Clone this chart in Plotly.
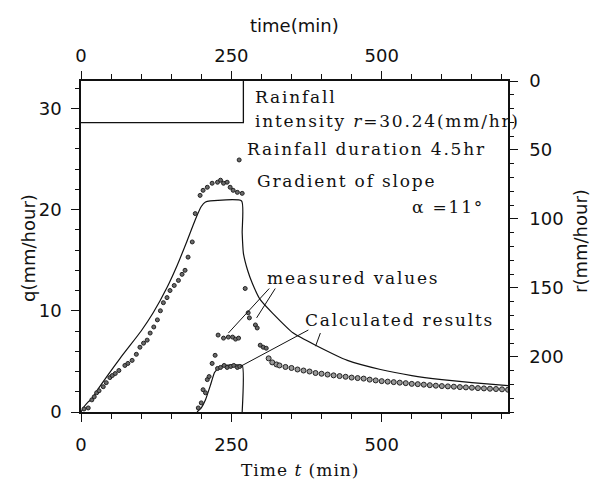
import plotly.graph_objects as go

# ---------------- data ----------------
# Rainfall hyetograph (right axis, r in mm/hr, reversed)
rain_t = [0, 270, 270]
rain_r = [30.24, 30.24, 0]

# Calculated results, main outflow (q mm/hour)
calc_t = [0, 5, 12, 18, 30, 65, 100, 120, 143, 160, 175, 190, 200, 207, 215, 267, 268, 270, 277, 285,
          298, 318, 353, 390, 443, 498, 550, 600, 650, 710]
calc_q = [0, 0.5, 1.0, 1.3, 2.4, 5.3, 8.0, 9.8, 12.3, 14.5, 16.7, 19.0, 20.3, 20.75, 20.85, 20.85,
          17.7, 15.7, 14.0, 12.7, 11.1, 9.8, 7.8, 6.6, 5.1, 4.2, 3.6, 3.2, 2.9, 2.6]

# Calculated results, lower curve
calc2_t = [193, 200, 207, 215, 222, 230, 240, 268, 268]
calc2_q = [0, 0.4, 1.2, 2.6, 3.9, 4.4, 4.6, 4.6, 0]

# Measured values (rising limb + peak cluster)
meas_t = [5, 12, 18, 22, 26, 30, 37, 42, 48, 52, 57, 63, 73, 78, 85, 92, 98, 104, 110, 115, 121, 127,
          132, 137, 143, 148, 155, 162, 168, 173, 178, 185, 190, 198, 203, 210, 218, 227, 232, 237,
          243, 248, 253, 260, 263, 268]
meas_q = [0.3, 0.4, 1.2, 1.5, 1.9, 2.1, 2.5, 2.9, 3.4, 3.6, 3.8, 4.1, 4.6, 4.8, 5.1, 5.7, 6.4, 6.8,
          7.1, 7.8, 8.4, 9.1, 10.0, 10.8, 11.3, 12.0, 12.5, 13.0, 13.6, 14.0, 15.3, 16.8, 19.6, 21.4,
          21.9, 22.2, 22.6, 22.7, 22.9, 22.6, 22.7, 22.2, 21.9, 21.7, 24.9, 21.6]

# Measured values (lower set, 190-310 min)
meas2_t = [195, 200, 203, 207, 210, 213, 218, 223, 228, 237, 245, 252, 257, 262,
           227, 232, 238, 243, 249, 254, 260, 264,
           273, 278, 280, 290, 293, 298, 303, 308]
meas2_q = [0.4, 0.9, 2.2, 1.9, 3.2, 3.5, 4.8, 5.6, 7.6, 7.3, 7.4, 7.4, 7.2, 7.3,
           4.3, 4.4, 4.6, 4.4, 4.5, 4.6, 4.4, 4.5,
           12.2, 9.8, 9.3, 8.6, 8.3, 6.6, 6.4, 6.3]

# Measured values (recession band)
band_t = [312, 318, 325, 330, 340, 350, 360, 370, 380, 390, 400, 410, 420, 430, 440, 450, 460, 470,
          480, 490, 500, 510, 520, 530, 540, 550, 560, 570, 580, 590, 600, 610, 620, 630, 640, 650,
          660, 670, 680, 690, 700, 710]
band_q = [5.3, 4.9, 4.7, 4.6, 4.45, 4.35, 4.2, 4.1, 4.0, 3.85, 3.78, 3.7, 3.62, 3.55, 3.48, 3.4,
          3.35, 3.3, 3.2, 3.12, 3.05, 3.0, 2.95, 2.9, 2.85, 2.78, 2.75, 2.7, 2.65, 2.6, 2.56, 2.53,
          2.5, 2.46, 2.43, 2.4, 2.36, 2.33, 2.3, 2.27, 2.24, 2.2]

# Leader lines (from label to curve), in data units (t, q)
leaders = [
    ((313, 12.2), (245, 7.8)),
    ((323, 12.2), (292, 9.3)),
    ((378, 8.1), (265, 4.5)),
    ((398, 7.8), (390, 6.5)),
]

X_RANGE = [0, 710]
Q_RANGE = [0, 32.7]
R_RANGE = [240, 0]

# ---------------- figure ----------------
W, H = 600, 489
L, R, T, B = 81, 92, 81, 77
PW, PH = W - L - R, H - T - B


def px(x):
    return (x - L) / PW


def py(y):
    return (H - B - y) / PH


SANS = "DejaVu Sans"
SERIF = "DejaVu Serif"
INK = "#111111"

fig = go.Figure()

mk = dict(size=4, color="#6a6a6a", line=dict(color="#222", width=1))

fig.add_trace(go.Scatter(x=rain_t, y=rain_r, xaxis="x2", yaxis="y2", mode="lines",
                         line=dict(color=INK, width=1.3), showlegend=False, hoverinfo="skip"))
fig.add_trace(go.Scatter(x=calc_t, y=calc_q, mode="lines", line=dict(color=INK, width=1.2, shape="spline", smoothing=0.5),
                         showlegend=False))
fig.add_trace(go.Scatter(x=calc2_t, y=calc2_q, mode="lines", line=dict(color=INK, width=1.2, shape="spline", smoothing=0.4),
                         showlegend=False))
fig.add_trace(go.Scatter(x=meas_t, y=meas_q, mode="markers", marker=mk, showlegend=False))
fig.add_trace(go.Scatter(x=meas2_t, y=meas2_q, mode="markers", marker=mk, showlegend=False))
fig.add_trace(go.Scatter(x=band_t, y=band_q, mode="markers", marker=dict(size=5, color="#9a9a9a", line=dict(color="#222", width=1)),
                         showlegend=False))

for (a, b) in leaders:
    fig.add_shape(type="line", xref="x", yref="y", x0=a[0], y0=a[1], x1=b[0], y1=b[1],
                  line=dict(color=INK, width=1))

tickfont = dict(family=SANS, size=18, color=INK)
axline = dict(showline=True, linecolor=INK, linewidth=1.5, showgrid=False, zeroline=False,
              ticks="outside", tickcolor=INK, tickwidth=1.3, tickfont=tickfont)

fig.update_layout(
    width=W, height=H, margin=dict(l=L, r=R, t=T, b=B),
    paper_bgcolor="white", plot_bgcolor="white", showlegend=False,
    xaxis=dict(range=X_RANGE, tick0=0, dtick=250, ticklen=8, ticklabelstandoff=8,
               minor=dict(tick0=0, dtick=50, ticklen=5, ticks="outside", tickcolor=INK, tickwidth=1.2), **axline),
    xaxis2=dict(range=X_RANGE, overlaying="x", side="top", anchor="y", tick0=0, dtick=250, ticklen=8,
                ticklabelstandoff=2,
                minor=dict(tick0=0, dtick=50, ticklen=5, ticks="outside", tickcolor=INK, tickwidth=1.2), **axline),
    yaxis=dict(range=Q_RANGE, tick0=0, dtick=10, ticklen=8, ticklabelstandoff=6,
               minor=dict(tick0=0, dtick=2, ticklen=4, ticks="outside", tickcolor=INK, tickwidth=1.2), **axline),
    yaxis2=dict(range=R_RANGE, overlaying="y", side="right", anchor="x", tick0=0, dtick=50, ticklen=8,
                ticklabelstandoff=8,
                minor=dict(tick0=0, dtick=10, ticklen=4, ticks="outside", tickcolor=INK, tickwidth=1.2), **axline),
)

ann = []


def text(s, x, y, size=17, family=SERIF, xanchor="left", angle=0, spacing=None):
    if spacing:
        s = '<span style="letter-spacing:%spx">%s</span>' % (spacing, s)
    ann.append(dict(text=s, x=px(x), y=py(y), xref="paper", yref="paper", showarrow=False,
                    xanchor=xanchor, yanchor="middle", textangle=angle,
                    font=dict(family=family, size=size, color=INK)))


# axis titles
text("time(min)", 294, 25, size=18, family=SANS, xanchor="center")
text("q(mm/hour)", 28, 248, size=18, family=SANS, xanchor="center", angle=-90)
text("r(mm/hour)", 580, 241, size=18, family=SANS, xanchor="center", angle=-90)
text("Time <i>t</i> (min)", 300, 470, size=17, xanchor="center", spacing=1)

# inside notes
text("Rainfall", 253, 97, spacing=1.8)
text("intensity <i>r</i>=30.24(mm/hr)", 253, 121, spacing=1.8)
text("Rainfall duration 4.5hr", 245, 149, spacing=1.8)
text("Gradient of slope", 255, 181, spacing=1.8)
text("α =11°", 410, 207, spacing=1.8)
text("measured values", 265, 278, spacing=1.8)
text("Calculated results", 303, 320, spacing=1.8)

fig.update_layout(annotations=ann)

fig.write_html("out.html", config={"displayModeBar": False},
               post_script="document.body.style.margin='0px';document.body.style.overflow='hidden';")
